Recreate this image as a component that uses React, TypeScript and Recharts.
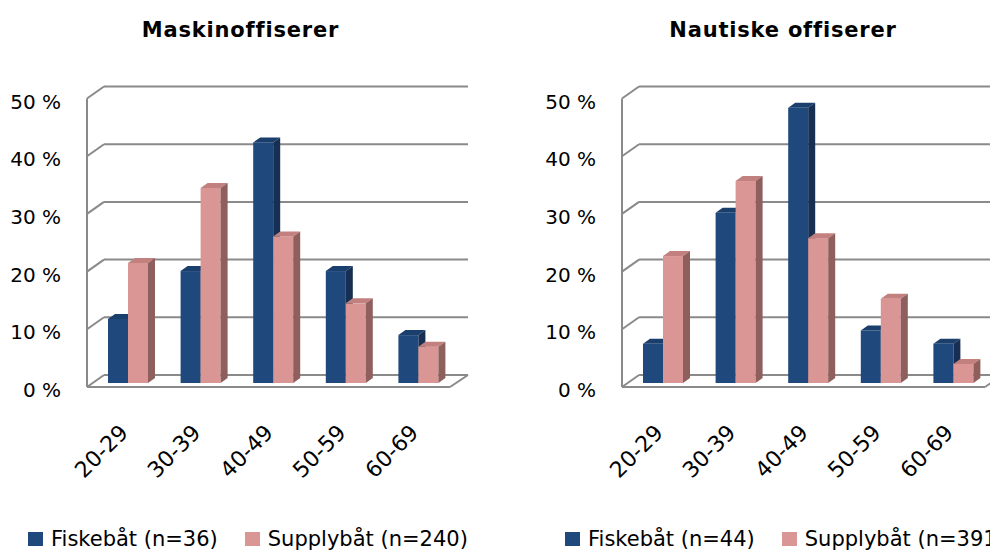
import { BarChart, Bar, XAxis, YAxis, CartesianGrid, Legend } from "recharts";

const ageGroups = ["20-29", "30-39", "40-49", "50-59", "60-69"];
const percentTicks = [0, 10, 20, 30, 40, 50];

// Maskinoffiserer
const maskinFiske = [11.1, 19.4, 41.7, 19.4, 8.3];
const maskinSupply = [20.8, 33.8, 25.4, 13.8, 6.3];
// Nautiske offiserer
const nautiskFiske = [6.8, 29.5, 47.7, 9.1, 6.8];
const nautiskSupply = [22.0, 35.0, 25.1, 14.6, 3.3];

const FONT = '"DejaVu Sans", sans-serif';
const BLUE = { front: "#1F497D", top: "#1B3F6C", side: "#162F52" };
const PINK = { front: "#D99694", top: "#C2807E", side: "#8E5F5D" };
const GRID = "#8A8A8A";

// 3D-look offsets (front plane -> back plane)
const DX = 7;
const DY = 5;

function Bar3D(props: any) {
  const { x, y, width, height, colors } = props;
  if (!height || height <= 0) return null;
  const r = x + width;
  const b = y + height;
  return (
    <g>
      <rect x={x} y={y} width={width} height={height} fill={colors.front} />
      <polygon
        points={`${x},${y} ${x + DX},${y - DY} ${r + DX},${y - DY} ${r},${y}`}
        fill={colors.top}
      />
      <polygon
        points={`${r},${y} ${r + DX},${y - DY} ${r + DX},${b - DY} ${r},${b}`}
        fill={colors.side}
      />
    </g>
  );
}

function GridLine3D(props: any) {
  const { x1, x2, y1 } = props;
  const pts: number[] = props.horizontalPoints ?? [];
  const bottom = pts.length ? Math.max(...pts) : y1;
  const top = pts.length ? Math.min(...pts) : y1;
  const isFloor = Math.abs(y1 - bottom) < 0.5;
  return (
    <g>
      <line x1={x1 - 5} y1={y1 + 4} x2={x1 + 12} y2={y1 - 8} stroke={GRID} strokeWidth={2} />
      <line x1={x1 + 12} y1={y1 - 8} x2={x2 + 13} y2={y1 - 8} stroke={GRID} strokeWidth={2} />
      {isFloor && (
        <>
          <line x1={x1 - 5} y1={y1 + 4} x2={x2 - 5} y2={y1 + 4} stroke={GRID} strokeWidth={2} />
          <line x1={x2 - 5} y1={y1 + 4} x2={x2 + 13} y2={y1 - 8} stroke={GRID} strokeWidth={2} />
          <line x1={x1 - 5} y1={top + 4} x2={x1 - 5} y2={bottom + 4} stroke={GRID} strokeWidth={2} />
        </>
      )}
    </g>
  );
}

const YTick = ({ x, y, payload }: any) => (
  <text x={x - 31} y={y + 14} textAnchor="end" fontSize={20} fontFamily={FONT} fill="#000">
    {`${payload.value} %`}
  </text>
);

const XTick = ({ x, y, payload }: any) => (
  <text
    transform={`translate(${x + 1},${y + 51}) rotate(-45)`}
    textAnchor="end"
    fontSize={22}
    fontFamily={FONT}
    fill="#000"
  >
    {payload.value}
  </text>
);

function LegendBox({ items }: { items: { label: string; color: string }[] }) {
  return (
    <div style={{ display: "flex", fontFamily: FONT, fontSize: 21, lineHeight: "21px", color: "#000" }}>
      {items.map((it) => (
        <div key={it.label} style={{ display: "flex", alignItems: "flex-start", marginRight: 27, whiteSpace: "nowrap" }}>
          <span style={{ width: 15, height: 14, marginTop: 3, marginRight: 8, background: it.color, display: "inline-block" }} />
          <span>{it.label}</span>
        </div>
      ))}
    </div>
  );
}

interface PanelProps {
  title: string;
  titleCenter: number;
  left: number;
  width: number;
  axisWidth: number;
  fiske: number[];
  supply: number[];
  fiskeLabel: string;
  supplyLabel: string;
  legendLeft: number;
}

function Panel(p: PanelProps) {
  const data = ageGroups.map((age, i) => ({ age, fiske: p.fiske[i], supply: p.supply[i] }));
  const items = [
    { label: p.fiskeLabel, color: BLUE.front },
    { label: p.supplyLabel, color: PINK.front },
  ];
  return (
    <>
      <div
        style={{
          position: "absolute",
          left: p.titleCenter - 200,
          width: 400,
          top: 19.5,
          textAlign: "center",
          fontFamily: FONT,
          fontWeight: "bold",
          fontSize: 21,
          letterSpacing: 0.8,
          lineHeight: "21px",
          whiteSpace: "nowrap",
        }}
      >
        {p.title}
      </div>
      <div style={{ position: "absolute", left: p.left, top: 0 }}>
        <BarChart
          width={p.width}
          height={557}
          data={data}
          margin={{ top: 94.5, right: p.width - p.axisWidth - 363, bottom: 0, left: 0 }}
          barSize={20}
          barGap={0}
        >
          <CartesianGrid vertical={false} horizontal={(props: any) => <GridLine3D {...props} />} />
          <XAxis
            dataKey="age"
            height={174}
            axisLine={false}
            tickLine={false}
            tickSize={0}
            tickMargin={0}
            interval={0}
            tick={<XTick />}
          />
          <YAxis
            width={p.axisWidth}
            domain={[0, 50]}
            ticks={percentTicks}
            axisLine={false}
            tickLine={false}
            tickSize={0}
            tickMargin={0}
            tick={<YTick />}
          />
          <Legend
            layout="horizontal"
            verticalAlign="middle"
            align="center"
            wrapperStyle={{ top: 529, left: p.legendLeft, width: "auto" }}
            content={() => <LegendBox items={items} />}
          />
          <Bar
            dataKey="fiske"
            name={p.fiskeLabel}
            fill={BLUE.front}
            isAnimationActive={false}
            shape={(props: any) => <Bar3D {...props} colors={BLUE} />}
          />
          <Bar
            dataKey="supply"
            name={p.supplyLabel}
            fill={PINK.front}
            isAnimationActive={false}
            shape={(props: any) => <Bar3D {...props} colors={PINK} />}
          />
        </BarChart>
      </div>
    </>
  );
}

export default function App() {
  return (
    <div
      style={{
        position: "fixed",
        left: 0,
        top: 0,
        width: 990,
        height: 557,
        overflow: "hidden",
        background: "#fff",
      }}
    >
      <Panel
        title="Maskinoffiserer"
        titleCenter={240.5}
        left={0}
        width={480}
        axisWidth={92}
        fiske={maskinFiske}
        supply={maskinSupply}
        fiskeLabel="Fiskebåt (n=36)"
        supplyLabel="Supplybåt (n=240)"
        legendLeft={28}
      />
      <Panel
        title="Nautiske offiserer"
        titleCenter={783}
        left={540}
        width={470}
        axisWidth={87}
        fiske={nautiskFiske}
        supply={nautiskSupply}
        fiskeLabel="Fiskebåt (n=44)"
        supplyLabel="Supplybåt (n=391)"
        legendLeft={25}
      />
    </div>
  );
}
